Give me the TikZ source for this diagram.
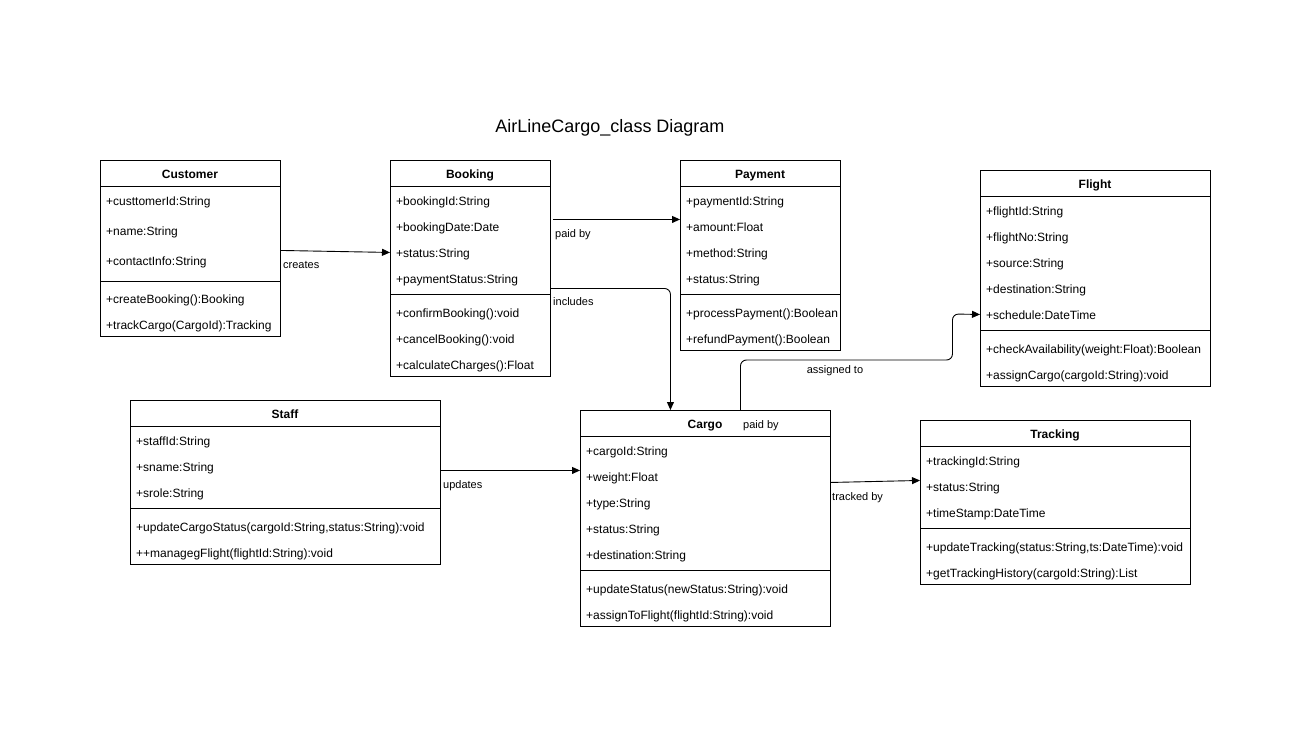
\documentclass[tikz,border=0pt]{standalone}
\usepackage{fontspec}
\setmainfont{Liberation Sans}
\usetikzlibrary{arrows.meta}
\tikzset{
  clsbox/.style={draw, line width=0.9pt, inner sep=0pt, fill=white},
  clstitle/.style={anchor=base, font=\fontsize{12pt}{14pt}\selectfont\bfseries, inner sep=0pt},
  member/.style={anchor=base west, yshift=-5pt, font=\fontsize{12pt}{14pt}\selectfont, inner sep=0pt},
  elabel/.style={anchor=base west, yshift=-4.5pt, font=\fontsize{11pt}{13pt}\selectfont, inner sep=0pt},
  arr/.style={draw, line width=0.9pt, -{Triangle[length=8pt,width=7pt]}},
  sepline/.style={line width=0.9pt}
}
\newcommand\umlclass[7]{%
  \node[clsbox, minimum width=#4pt, minimum height=#5pt, anchor=north west] (#1) at (#2,#3) {};
  \draw[sepline] (#2,#3+26) -- ++(#4,0);
  \draw[sepline] (#2,#3+#7) -- ++(#4,0);
  \node[clstitle] at (#2+#4/2,#3+18.5) {#6};
}
\begin{document}
\begin{tikzpicture}[x=1pt,y=-1pt]
\useasboundingbox[fill=white] (0,0) rectangle (1311,729);

\node[anchor=base, font=\fontsize{18pt}{21pt}\selectfont, inner sep=0pt] (title) at (610,132.5) {AirLineCargo\_class Diagram};

% Customer
\umlclass{cust}{100}{160}{180}{176}{Customer}{121}
\node[member] (c1) at (106,200) {+custtomerId:String};
\node[member] (c2) at (106,230) {+name:String};
\node[member] (c3) at (106,260) {+contactInfo:String};
\node[member] (c4) at (106,298) {+createBooking():Booking};
\node[member] (c5) at (106,324) {+trackCargo(CargoId):Tracking};

% Booking
\umlclass{book}{390}{160}{160}{216}{Booking}{134}
\node[member] (b1) at (396,200) {+bookingId:String};
\node[member] (b2) at (396,226) {+bookingDate:Date};
\node[member] (b3) at (396,252) {+status:String};
\node[member] (b4) at (396,278) {+paymentStatus:String};
\node[member] (b5) at (396,312) {+confirmBooking():void};
\node[member] (b6) at (396,338) {+cancelBooking():void};
\node[member] (b7) at (396,364) {+calculateCharges():Float};

% Payment
\umlclass{pay}{680}{160}{160}{190}{Payment}{134}
\node[member] (p1) at (686,200) {+paymentId:String};
\node[member] (p2) at (686,226) {+amount:Float};
\node[member] (p3) at (686,252) {+method:String};
\node[member] (p4) at (686,278) {+status:String};
\node[member] (p5) at (686,312) {+processPayment():Boolean};
\node[member] (p6) at (686,338) {+refundPayment():Boolean};

% Flight
\umlclass{flight}{980}{170}{230}{216}{Flight}{160}
\node[member] (f1) at (986,210) {+flightId:String};
\node[member] (f2) at (986,236) {+flightNo:String};
\node[member] (f3) at (986,262) {+source:String};
\node[member] (f4) at (986,288) {+destination:String};
\node[member] (f5) at (986,314) {+schedule:DateTime};
\node[member] (f6) at (986,348) {+checkAvailability(weight:Float):Boolean};
\node[member] (f7) at (986,374) {+assignCargo(cargoId:String):void};

% Staff
\umlclass{staff}{130}{400}{310}{164}{Staff}{108}
\node[member] (s1) at (136,440) {+staffId:String};
\node[member] (s2) at (136,466) {+sname:String};
\node[member] (s3) at (136,492) {+srole:String};
\node[member] (s4) at (136,526) {+updateCargoStatus(cargoId:String,status:String):void};
\node[member] (s5) at (136,552) {++managegFlight(flightId:String):void};

% Cargo
\umlclass{cargo}{580}{410}{250}{216}{Cargo}{160}
\node[member] (g1) at (586,450) {+cargoId:String};
\node[member] (g2) at (586,476) {+weight:Float};
\node[member] (g3) at (586,502) {+type:String};
\node[member] (g4) at (586,528) {+status:String};
\node[member] (g5) at (586,554) {+destination:String};
\node[member] (g6) at (586,588) {+updateStatus(newStatus:String):void};
\node[member] (g7) at (586,614) {+assignToFlight(flightId:String):void};
\node[elabel] (gpaid) at (743,424) {paid by};

% Tracking
\umlclass{track}{920}{420}{270}{164}{Tracking}{108}
\node[member] (t1) at (926,460) {+trackingId:String};
\node[member] (t2) at (926,486) {+status:String};
\node[member] (t3) at (926,512) {+timeStamp:DateTime};
\node[member] (t4) at (926,546) {+updateTracking(status:String,ts:DateTime):void};
\node[member] (t5) at (926,572) {+getTrackingHistory(cargoId:String):List};

% Connectors
\draw[arr] ([yshift=-2pt]cust.east) -- ([yshift=16pt]book.west);
\node[elabel] (lcreates) at (283,264) {creates};

\draw[arr] ([xshift=2pt,yshift=49pt]book.east) -- ([yshift=36pt]pay.west);
\node[elabel] (lpaid) at (555,233) {paid by};

\draw[arr, rounded corners=6pt] ([yshift=-20pt]book.east) -| ([xshift=-35pt]cargo.north);
\node[elabel] (lincl) at (553,301) {includes};

\draw[arr, rounded corners=6pt] ([xshift=35pt]cargo.north) -- ++(0,-50) -| ++(212,-46) -- ([yshift=-36pt]flight.west);
\node[anchor=base, yshift=-4.5pt, font=\fontsize{11pt}{13pt}\selectfont, inner sep=0pt] (lassign) at (835,369) {assigned to};

\draw[arr] ([yshift=12pt]staff.east) -- ([yshift=48pt]cargo.west);
\node[elabel] (lupd) at (443,484) {updates};

\draw[arr] ([yshift=36pt]cargo.east) -- ([yshift=22pt]track.west);
\node[elabel] (ltrack) at (832,496) {tracked by};
\end{tikzpicture}
\end{document}
